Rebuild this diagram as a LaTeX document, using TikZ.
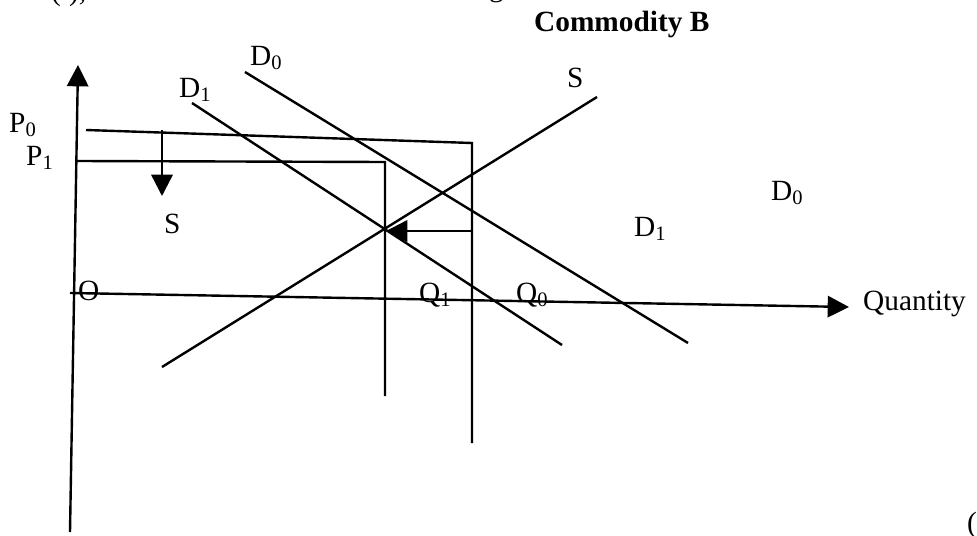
\documentclass[tikz,border=0pt]{standalone}
\usepackage{fontspec}
\setmainfont{Liberation Serif}
\usetikzlibrary{arrows.meta}
\begin{document}
\begin{tikzpicture}[x=0.75pt,y=-0.75pt,>={Triangle[length=16pt,width=16pt]},line width=1.8pt,font=\fontsize{22}{26}\selectfont,
  lbl/.style={anchor=base west,inner sep=0pt}]
  \useasboundingbox (0,0) rectangle (977,535);

  % 坐标轴 (按像素取点, y 向下)
  \coordinate (Ybot) at (70,532);
  \coordinate (Ytop) at (78,65);
  \coordinate (Xl) at (70,293);
  \coordinate (Xr) at (849,307);
  \draw[->] (Ybot) -- (Ytop);
  \draw[->] (Xl) -- (Xr);

  % 价格 P0 与数量 Q0
  \coordinate (A0) at (86,130);
  \coordinate (B0) at (472,143);
  \coordinate (C0) at (472,443);
  \draw (A0) -- (B0) -- (C0);

  % 价格 P1 与数量 Q1
  \coordinate (A1) at (77,161);
  \coordinate (B1) at (385,162);
  \coordinate (C1) at (385,396);
  \draw (A1) -- (B1) -- (C1);

  % 供给曲线 S
  \coordinate (S1) at (162,367);
  \coordinate (S2) at (597,97);
  \draw (S1) -- (S2);

  % 需求曲线 D1, D0
  \coordinate (D1a) at (192,103);
  \coordinate (D1b) at (562,345);
  \draw (D1a) -- (D1b);
  \coordinate (D0a) at (245,72);
  \coordinate (D0b) at (688,343);
  \draw (D0a) -- (D0b);

  % 价格下降与数量减少的箭头
  \coordinate (E) at (386,231);
  \coordinate (F) at (162,130);
  \coordinate (G) at (162,196);
  \coordinate (H) at (472,231);
  \draw[->] (F) -- (G);
  \draw[->] (H) -- (E);

  % 标注
  \node[lbl,font=\fontsize{22}{26}\selectfont\bfseries] (title) at (533,32) {Commodity B};
  \node[lbl] (lD0) at (249,65) {D\textsubscript{0}};
  \node[lbl] (lD1) at (178,97) {D\textsubscript{1}};
  \node[lbl] (lSr) at (566,88) {S};
  \node[lbl] (lP0) at (8,132) {P\textsubscript{0}};
  \node[lbl] (lP1) at (25,165) {P\textsubscript{1}};
  \node[lbl] (lS) at (163,233) {S};
  \node[lbl] (lO) at (77,300) {O};
  \node[lbl] (lQ1) at (418,302) {Q\textsubscript{1}};
  \node[lbl] (lQ0) at (515,302) {Q\textsubscript{0}};
  \node[lbl] (lD1r) at (633,236) {D\textsubscript{1}};
  \node[lbl] (lD0r) at (770,200) {D\textsubscript{0}};
  \node[lbl] (lQ) at (862,310) {Quantity};

  % 页边截断的文字
  \node[lbl] (cutA) at (50,1) {(i),};
  \node[lbl] (cutB) at (488,-3) {g};
  \node[lbl] (cutC) at (966,532) {(};
\end{tikzpicture}
\end{document}
